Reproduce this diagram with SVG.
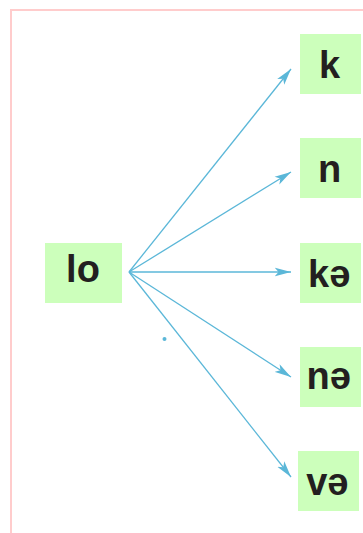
<svg xmlns="http://www.w3.org/2000/svg" width="363" height="533" viewBox="0 0 363 533">
<style>
.node rect{fill:#ccffbb;}
.node text{font-family:"Liberation Sans",Arial,sans-serif;font-weight:bold;font-size:38px;fill:#231f20;text-anchor:middle;}
.edge{stroke:#5bb7d8;stroke-width:1.3;fill:none;marker-end:url(#ah);}
</style>
<defs>
<marker id="ah" markerUnits="userSpaceOnUse" markerWidth="17" markerHeight="10" viewBox="0 0 17 10" refX="16.5" refY="5" orient="auto">
<path d="M0,0.5 L16.5,5 L0,9.5 L4,5 z" fill="#5bb7d8"/>
</marker>
</defs>
<rect x="11" y="10" width="420" height="560" fill="none" stroke="#ffcccc" stroke-width="2"/>
<g id="connectors">
<path class="edge" d="M129,272 L291,69"/>
<path class="edge" d="M129,272 L291,172"/>
<path class="edge" d="M129,272 L291,272"/>
<path class="edge" d="M129,272 L291,377"/>
<path class="edge" d="M129,272 L291,477"/>
</g>
<circle cx="164.5" cy="339" r="2" fill="#5bb7d8"/>
<g id="node-lo" class="node"><rect x="45" y="243" width="77" height="60"/><text x="83" y="282">lo</text></g>
<g id="node-k" class="node"><rect x="300" y="34" width="61" height="60"/><text x="329.5" y="77.5">k</text></g>
<g id="node-n" class="node"><rect x="300" y="138" width="61" height="60"/><text x="329.7" y="181.7">n</text></g>
<g id="node-ke" class="node"><rect x="300" y="243" width="61" height="60"/><text x="329.2" y="286.7">kə</text></g>
<g id="node-ne" class="node"><rect x="300" y="347" width="61" height="60"/><text x="328.8" y="388.5">nə</text></g>
<g id="node-ve" class="node"><rect x="298" y="451" width="61" height="60"/><text x="327.3" y="494.7">və</text></g>
</svg>
